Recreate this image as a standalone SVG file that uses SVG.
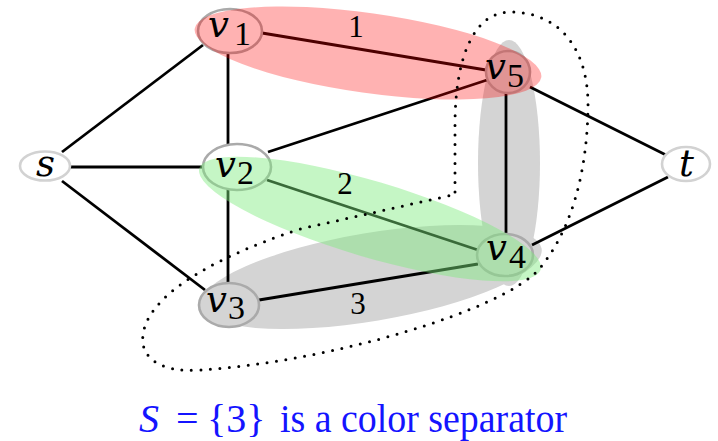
<svg xmlns="http://www.w3.org/2000/svg" width="718" height="441" viewBox="0 0 718 441">
<style>
.bg{fill:#d4d4d4}
.e{stroke:#000;stroke-width:2.8;fill:none}
.n{stroke:#aaaaaa;stroke-width:2.6}
.nw{fill:#fff}
.ng{fill:#d4d4d4}
.st{fill:#fff;stroke:#d2d2d2;stroke-width:2.6}
.v{font-family:"DejaVu Serif",serif;font-style:italic;font-size:37px}
.d{font-family:"Liberation Serif",serif;font-size:34px}
.lab{font-family:"Liberation Serif",serif;font-size:31px;text-anchor:middle}
.cap{font-family:"Liberation Serif",serif;font-size:40px;fill:#1414ff}
</style>
<g id="highlights-back">
<ellipse class="bg" cx="509" cy="163" rx="31" ry="123"/>
<ellipse class="bg" cx="371" cy="277" rx="173" ry="44" transform="rotate(-9.5 371 277)"/>
</g>
<g id="connectors">
<line class="e" x1="62" y1="152" x2="203" y2="45"/>
<line class="e" x1="70" y1="167" x2="202" y2="167"/>
<line class="e" x1="62" y1="181" x2="205" y2="290"/>
<line class="e" x1="228" y1="50" x2="228" y2="145"/>
<line class="e" x1="228" y1="189" x2="228" y2="284"/>
<line class="e" x1="262" y1="33" x2="486" y2="70"/>
<line class="e" x1="268" y1="152" x2="487" y2="80"/>
<line class="e" x1="267" y1="180" x2="478" y2="250"/>
<line class="e" x1="259" y1="300" x2="478" y2="264"/>
<line class="e" x1="506" y1="93" x2="506" y2="233"/>
<line class="e" x1="530" y1="87" x2="666" y2="155"/>
<line class="e" x1="532" y1="245" x2="668" y2="177"/>
</g>
<g id="s"><ellipse class="st" cx="45" cy="166" rx="25" ry="14.5"/></g>
<g id="t"><ellipse class="st" cx="686" cy="164" rx="24" ry="17"/></g>
<g id="v1"><ellipse class="n nw" cx="230" cy="31" rx="32" ry="22"/></g>
<g id="v2"><ellipse class="n nw" cx="237" cy="167" rx="34" ry="23"/></g>
<g id="v3"><ellipse class="n ng" cx="229" cy="305" rx="30" ry="22"/></g>
<g id="v4"><ellipse class="n ng" cx="505" cy="255" rx="28" ry="21"/></g>
<g id="v5"><ellipse class="n ng" cx="508" cy="72" rx="22" ry="21"/></g>
<g id="highlights-front">
<ellipse cx="368" cy="53" rx="175" ry="40" transform="rotate(8 368 53)" fill="#ff0000" fill-opacity="0.3"/>
<ellipse cx="370" cy="219" rx="178" ry="38" transform="rotate(16.5 370 219)" fill="rgb(127,235,127)" fill-opacity="0.45"/>
</g>
<g id="node-labels">
<text class="v" x="36" y="176">s</text>
<text class="v" x="679" y="176">t</text>
<text x="208" y="37"><tspan class="v">v</tspan><tspan class="d" x="234" y="45">1</tspan></text>
<text x="215" y="177"><tspan class="v">v</tspan><tspan class="d" x="237" y="184">2</tspan></text>
<text x="206" y="312"><tspan class="v">v</tspan><tspan class="d" x="228" y="319">3</tspan></text>
<text x="486" y="260"><tspan class="v">v</tspan><tspan class="d" x="509" y="268">4</tspan></text>
<text x="485" y="79"><tspan class="v">v</tspan><tspan class="d" x="507" y="87">5</tspan></text>
</g>
<g id="edge-labels">
<text class="lab" x="356" y="37">1</text>
<text class="lab" x="345" y="194">2</text>
<text class="lab" x="358" y="314">3</text>
</g>
<g id="separator">
<path d="M455,192 L455,125 C455,55 475,12 510,12 C562,12 589,52 588,108 C587,165 575,225 540,268 C505,310 330,362 200,370 C158,373 140,356 143,335 C147,300 200,262 300,229 L448,196 Q455,195 455,192 Z" fill="none" stroke="#000" stroke-width="3" stroke-linecap="round" stroke-dasharray="0 9.5"/>
</g>
<g id="caption">
<text class="cap" x="139" y="432" font-style="italic">S</text>
<text class="cap" x="176" y="432">=</text>
<text class="cap" x="207" y="432">{3}</text>
<text class="cap" x="280" y="432" textLength="287" lengthAdjust="spacingAndGlyphs">is a color separator</text>
</g>
</svg>
